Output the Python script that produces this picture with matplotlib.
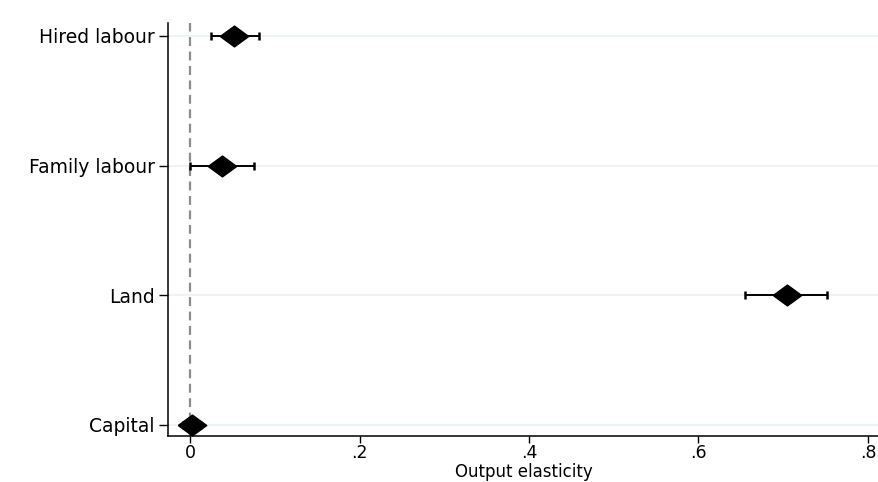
import matplotlib
matplotlib.use("Agg")
import matplotlib.pyplot as plt

# Koeficienty (elasticity) a intervaly spolehlivosti
categories = ["Hired labour", "Family labour", "Land", "Capital"]
estimates = [0.052, 0.038, 0.704, 0.002]
ci_low = [0.025, 0.000, 0.655, -0.008]
ci_high = [0.081, 0.075, 0.752, 0.013]
xticks = [0, 0.2, 0.4, 0.6, 0.8]
xtick_labels = ["0", ".2", ".4", ".6", ".8"]

plt.rcParams['font.family'] = ['DejaVu Sans']

fig = plt.figure(figsize=(8.79, 4.82), dpi=100)
ax = fig.add_axes([168 / 879, 1 - 436 / 482, 1 - 168 / 879, (436 - 23) / 482])

ypos = list(range(1, len(categories) + 1))

# mrizka
for y in ypos:
    ax.axhline(y, color="#eaf2f3", lw=1.2, zorder=0)

ax.axvline(0, color="#8c8c8c", lw=1.6, ls=(0, (4, 2.5)), zorder=1)

err_lo = [e - l for e, l in zip(estimates, ci_low)]
err_hi = [h - e for e, h in zip(estimates, ci_high)]
ax.errorbar(estimates, ypos, xerr=[err_lo, err_hi], fmt="none", ecolor="black",
            elinewidth=1.4, capsize=3, capthick=1.8, zorder=2)

# siroky kosoctverec jako ve State
diamond = [(-13, 0), (0, 9.5), (13, 0), (0, -9.5), (-13, 0)]
ax.plot(estimates, ypos, marker=diamond, ls="none", color="black",
        markersize=20.5, zorder=3)

ax.set_ylim(4.085, 0.9)
ax.set_xlim(-0.026, 0.813)
ax.set_yticks(ypos)
ax.set_yticklabels(categories, fontsize=13.5)
ax.set_xticks(xticks)
ax.set_xticklabels(xtick_labels, fontsize=12.5)
ax.set_xlabel("Output elasticity", fontsize=12)
ax.xaxis.set_label_coords(0.5, -0.066)

ax.spines["top"].set_visible(False)
ax.spines["right"].set_visible(False)
ax.spines["left"].set_linewidth(1.1)
ax.spines["bottom"].set_linewidth(1.1)
ax.tick_params(axis="y", length=6.5, width=1, colors="black", pad=3)
ax.tick_params(axis="x", length=5, width=1, colors="black", pad=0.5)

fig.savefig("out.png", dpi=100)
